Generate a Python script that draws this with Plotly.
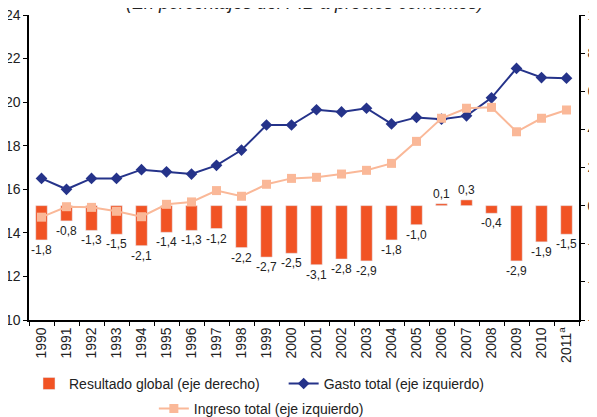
import plotly.graph_objects as go

years = ['1990', '1991', '1992', '1993', '1994', '1995', '1996', '1997', '1998', '1999', '2000',
         '2001', '2002', '2003', '2004', '2005', '2006', '2007', '2008', '2009', '2010', '2011']
year_labels = years[:-1] + ['2011<sup>a</sup>']

resultado = [-1.8, -0.8, -1.3, -1.5, -2.1, -1.4, -1.3, -1.2, -2.2, -2.7, -2.5,
             -3.1, -2.8, -2.9, -1.8, -1.0, 0.1, 0.3, -0.4, -2.9, -1.9, -1.5]
gasto = [16.5, 16.0, 16.5, 16.5, 16.9, 16.8, 16.7, 17.1, 17.8, 18.95, 18.95,
         19.65, 19.55, 19.72, 19.0, 19.3, 19.22, 19.37, 20.2, 21.55, 21.13, 21.1]
ingreso = [14.72, 15.2, 15.17, 14.99, 14.74, 15.31, 15.42, 15.94, 15.68, 16.23, 16.5,
           16.55, 16.7, 16.87, 17.19, 18.2, 19.26, 19.72, 19.76, 18.64, 19.26, 19.64]

labels = [f'{v:.1f}'.replace('.', ',') for v in resultado]

fig = go.Figure()
fig.add_trace(go.Bar(x=years, y=resultado, name='Resultado global (eje derecho)',
                     marker_color='#F15324', width=0.46, text=labels, textposition='outside',
                     constraintext='none', textfont=dict(size=12, color='#222'),
                     cliponaxis=False, yaxis='y', legend='legend'))
fig.add_trace(go.Scatter(x=years, y=gasto, mode='lines+markers', name='Gasto total (eje izquierdo)',
                         line=dict(color='#25338A', width=2),
                         marker=dict(symbol='diamond', size=9, color='#25338A'),
                         yaxis='y2', legend='legend3'))
fig.add_trace(go.Scatter(x=years, y=ingreso, mode='lines+markers', name='Ingreso total (eje izquierdo)',
                         line=dict(color='#FAB898', width=2),
                         marker=dict(symbol='square', size=9, color='#FAB898'),
                         yaxis='y2', legend='legend2'))

axis_font = dict(family='Liberation Sans, Arial, sans-serif', size=14, color='#222')
leg = dict(orientation='h', xanchor='left', yanchor='top', font=dict(size=14),
           bgcolor='rgba(0,0,0,0)')

# the page body adds 8px of margin, so the figure is offset accordingly
fig.update_layout(
    width=597, height=417,
    margin=dict(l=21, r=26, t=7, b=105, autoexpand=False),
    plot_bgcolor='white', paper_bgcolor='white',
    font=dict(family='Liberation Sans, Arial, sans-serif', size=14, color='#222'),
    showlegend=True,
    xaxis=dict(type='category', range=[-0.5, 21.5], tickvals=years, ticktext=year_labels,
               tickangle=-90, showline=True, linecolor='black', linewidth=1.5, ticks='outside',
               tickson='boundaries', ticklen=4, tickcolor='black', showgrid=False,
               tickfont=axis_font, automargin=False, ticklabeloverflow='allow'),
    yaxis=dict(side='right', range=[-6, 10], dtick=2, showline=True, linecolor='black',
               linewidth=1.5, ticks='outside', ticklen=4, tickcolor='black', showgrid=False,
               zeroline=False, tickfont=axis_font, automargin=False, ticklabeloverflow='allow'),
    yaxis2=dict(side='left', overlaying='y', range=[10, 24], dtick=2, showline=True,
                linecolor='black', linewidth=1.5, ticks='outside', ticklen=4, tickcolor='black',
                showgrid=False, zeroline=False, tickfont=axis_font, automargin=False,
                ticklabeloverflow='allow'),
    legend=dict(leg, x=0, y=-0.157),
    legend3=dict(leg, x=0.463, y=-0.157),
    legend2=dict(leg, x=0.227, y=-0.239),
    annotations=[dict(text='<i>(En porcentajes del PIB a precios corrientes)</i>',
                      xref='paper', yref='paper', x=0.5, y=1, yshift=0, yanchor='bottom',
                      showarrow=False, font=dict(size=18, color='#222'))],
)

fig.write_html('out.html')
